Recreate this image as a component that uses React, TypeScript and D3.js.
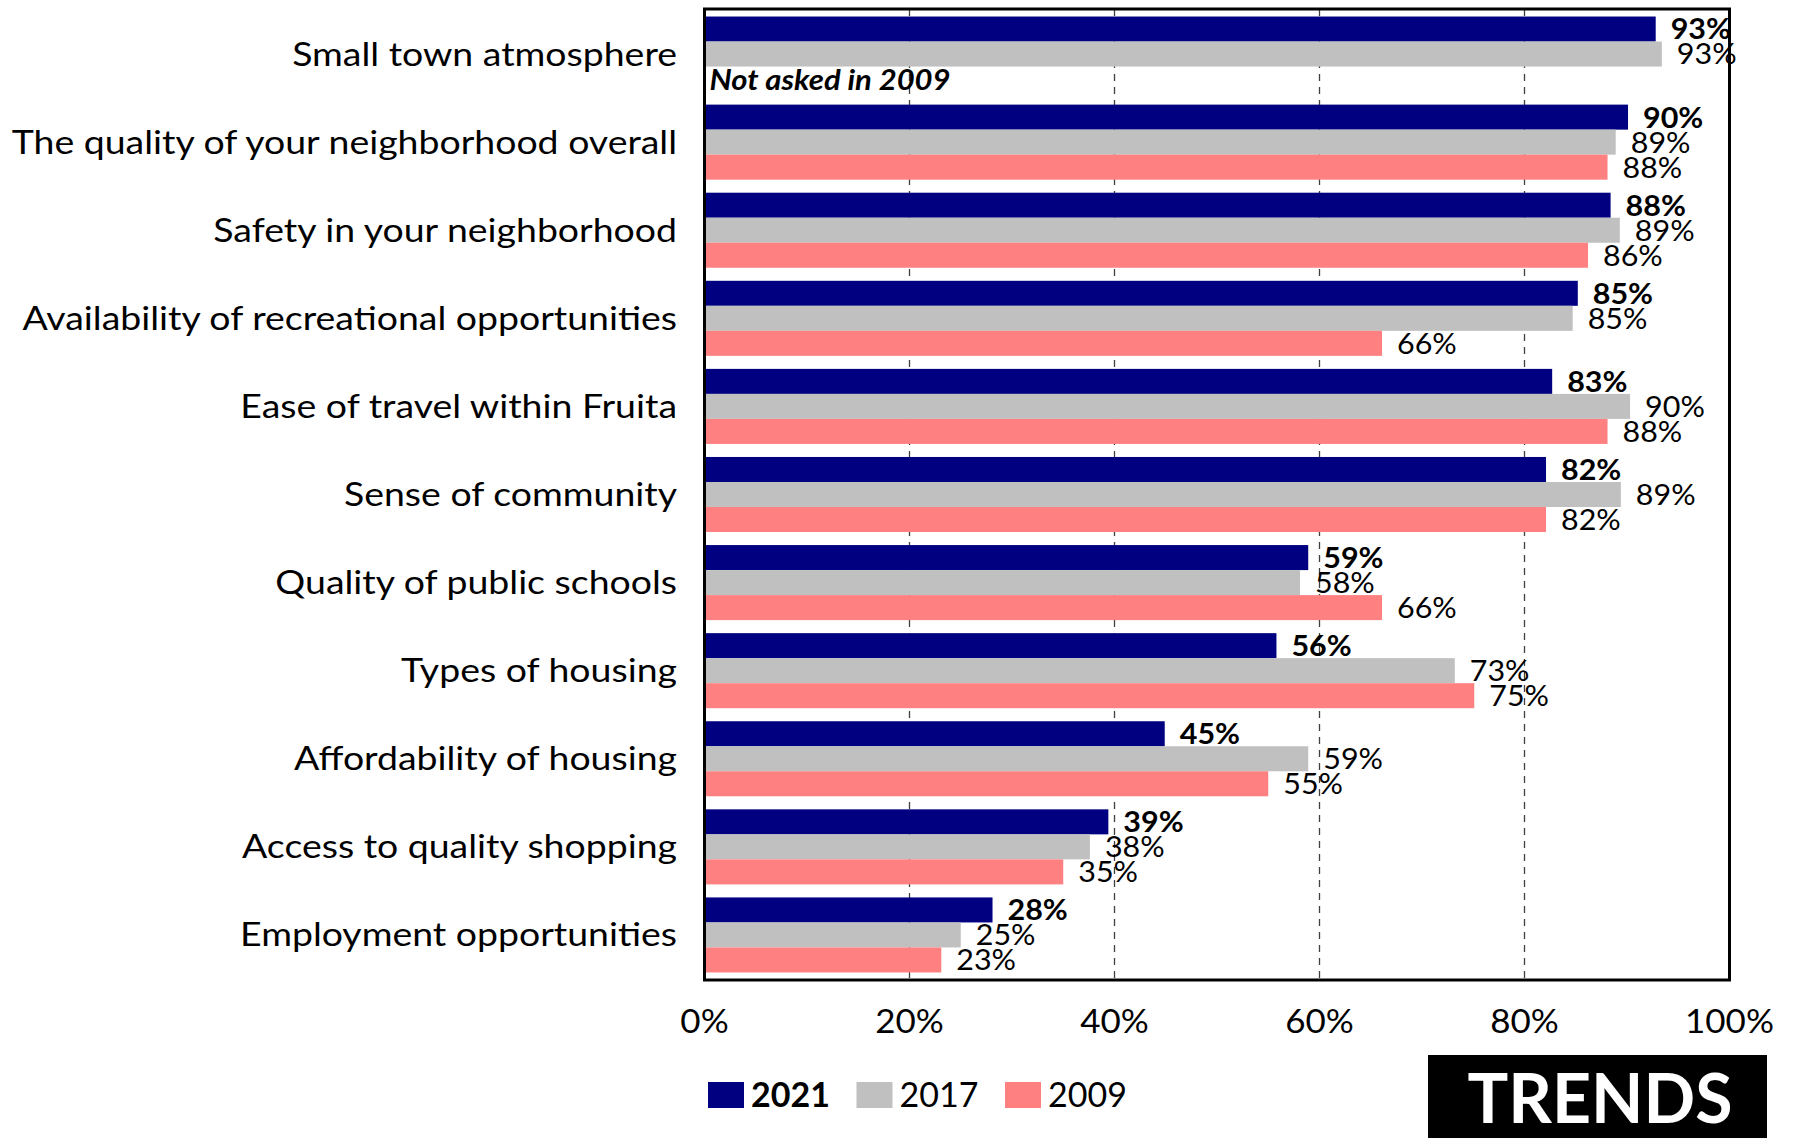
import React, { useEffect } from "react";
import * as d3 from "d3";

const categories = [
  "Small town atmosphere",
  "The quality of your neighborhood overall",
  "Safety in your neighborhood",
  "Availability of recreational opportunities",
  "Ease of travel within Fruita",
  "Sense of community",
  "Quality of public schools",
  "Types of housing",
  "Affordability of housing",
  "Access to quality shopping",
  "Employment opportunities",
];

const series = ["2021", "2017", "2009"];
const values2021 = [92.8, 90.1, 88.4, 85.2, 82.7, 82.1, 58.9, 55.8, 44.9, 39.4, 28.1];
const values2017 = [93.4, 88.9, 89.3, 84.7, 90.3, 89.4, 58.1, 73.2, 58.9, 37.6, 25.0];
const values2009: (number | null)[] = [null, 88.1, 86.2, 66.1, 88.1, 82.1, 66.1, 75.1, 55.0, 35.0, 23.1];
const seriesColors = ["#000080", "#C0C0C0", "#FF8080"];
const ticks = [0, 20, 40, 60, 80, 100];
const gridTicks = [20, 40, 60, 80];
const notAskedNote = "Not asked in 2009";
const badge = "TRENDS";

const FONT = "Lato, 'Open Sans', sans-serif";

function SText(props: {
  x: number;
  y: number;
  sx: number;
  children: React.ReactNode;
  [k: string]: any;
}) {
  const { x, y, sx, children, ...rest } = props;
  return (
    <text transform={`translate(${x},${y}) scale(${sx},1)`} {...rest}>
      {children}
    </text>
  );
}

export default function App() {
  useEffect(() => {
    document.body.style.margin = "0";
  }, []);

  const W = 1793;
  const H = 1138;
  const left = 704.5;
  const right = 1729.5;
  const top = 9;
  const bottom = 980;

  const x = d3.scaleLinear().domain([0, 100]).range([left, right]);
  const y = d3
    .scaleBand<string>()
    .domain(categories)
    .range([top + 1, bottom - 1])
    .paddingInner(0.148)
    .paddingOuter(0.074);
  const inner = d3.scaleBand<string>().domain(series).range([0, y.bandwidth()]);

  const allValues = [values2021, values2017, values2009];

  return (
    <svg width={W} height={H} style={{ display: "block" }} fontFamily={FONT}>
      <rect x={0} y={0} width={W} height={H} fill="#fff" />
      {gridTicks.map((t) => (
        <line
          key={t}
          x1={x(t)}
          x2={x(t)}
          y1={top}
          y2={bottom}
          stroke="#404040"
          strokeWidth={1.3}
          strokeDasharray="7,6"
        />
      ))}
      {categories.map((c, i) => (
        <g key={c}>
          {series.map((s, k) => {
            const v = allValues[k][i];
            if (v == null) return null;
            const by = (y(c) as number) + (inner(s) as number);
            return (
              <g key={s}>
                <rect x={x(0)} y={by} width={x(v) - x(0)} height={inner.bandwidth()} fill={seriesColors[k]} />
                <SText
                  x={x(v) + 15}
                  y={by + inner.bandwidth() / 2}
                  sx={1.05}
                  dy="0.36em"
                  fontSize={29}
                  fontWeight={k === 0 ? 700 : 400}
                  fill="#000"
                >
                  {Math.round(v)}%
                </SText>
              </g>
            );
          })}
          {allValues[2][i] == null && (
            <SText
              x={x(0) + 5}
              y={(y(c) as number) + (inner("2009") as number) + inner.bandwidth() / 2}
              sx={1.07}
              dy="0.36em"
              fontSize={29}
              fontWeight={700}
              fontStyle="italic"
              fill="#000"
            >
              {notAskedNote}
            </SText>
          )}
          <SText
            x={677}
            y={(y(c) as number) + y.bandwidth() / 2}
            sx={1.17}
            dy="0.36em"
            textAnchor="end"
            fontSize={32}
            fill="#000"
          >
            {c}
          </SText>
        </g>
      ))}
      <rect x={left} y={top} width={right - left} height={bottom - top} fill="none" stroke="#000" strokeWidth={3} />
      {ticks.map((t) => (
        <SText key={t} x={x(t)} y={1033} sx={1.06} textAnchor="middle" fontSize={33} fill="#000">
          {t}%
        </SText>
      ))}
      {series.map((s, k) => {
        const lx = 708 + k * 148.5;
        return (
          <g key={s}>
            <rect x={lx} y={1082} width={36} height={26} fill={seriesColors[k]} />
            <text x={lx + 43} y={1107} fontSize={34} fontWeight={k === 0 ? 700 : 400} fill="#000">
              {s}
            </text>
          </g>
        );
      })}
      <rect x={1428} y={1055} width={339} height={83} fill="#000" />
      <text x={1600} y={1123} textAnchor="middle" fontSize={68} fontWeight={700} fill="#fff">
        {badge}
      </text>
    </svg>
  );
}
